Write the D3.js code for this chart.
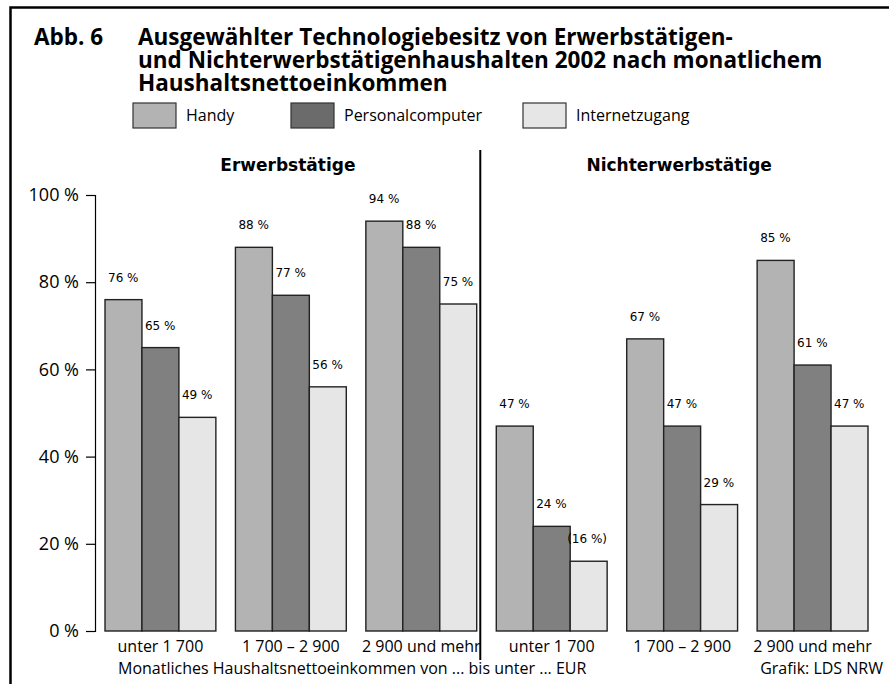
<!DOCTYPE html>
<html>
<head>
<meta charset="utf-8">
<script src="https://cdn.jsdelivr.net/npm/d3@7"></script>
<style>
  body { margin: 0; background: #fff; }
  .cond { font-family: "Open Sans", "Noto Sans", sans-serif; }
  .dv { font-family: "DejaVu Sans", sans-serif; }
</style>
</head>
<body>
<div id="chart"></div>
<script>
const sections = ["Erwerbstätige", "Nichterwerbstätige"]
const incomeClasses = ["unter 1 700", "1 700 – 2 900", "2 900 und mehr",
                       "unter 1 700", "1 700 – 2 900", "2 900 und mehr"]
const seriesNames = ["Handy", "Personalcomputer", "Internetzugang"]
const handy = [76, 88, 94, 47, 67, 85]
const pc = [65, 77, 88, 24, 47, 61]
const internet = [49, 56, 75, 16, 29, 47]
// values shown in brackets (low case numbers), per series: group indexes
const bracketed = [[], [], [3]]
const yTicks = [0, 20, 40, 60, 80, 100]

const BAR_COLORS = ["#b3b3b3", "#808080", "#e6e6e6"]
const LEGEND_COLORS = ["#b3b3b3", "#6b6b6b", "#e6e6e6"]

var W = 889, H = 684

var svg = d3.select("#chart").append("svg")
    .attr("width", W)
    .attr("height", H)

// frame (right and bottom edges are cut off)
svg.append("path")
    .attr("d", "M10.5,700 V7.5 H900")
    .attr("fill", "none")
    .attr("stroke", "#000")
    .attr("stroke-width", 2.5)

// title
var title = svg.append("g").attr("class", "cond").style("font-weight", "bold").style("font-size", "22.5px")
title.append("text").attr("x", 34).attr("y", 45).text("Abb. 6")
var titleLines = ["Ausgewählter Technologiebesitz von Erwerbstätigen-",
                  "und Nichterwerbstätigenhaushalten 2002 nach monatlichem",
                  "Haushaltsnettoeinkommen"]
title.selectAll(".tl")
    .data(titleLines)
    .enter().append("text")
    .attr("class", "tl")
    .attr("x", 138)
    .attr("y", (d, i) => 45 + i * 23)
    .text(d => d)

// legend
var legendX = [133, 291, 523]
var legend = svg.selectAll(".legend")
    .data(seriesNames)
    .enter().append("g")
    .attr("class", "legend")
    .attr("transform", (d, i) => "translate(" + legendX[i] + ",103)")
legend.append("rect")
    .attr("width", 43)
    .attr("height", 25)
    .attr("fill", (d, i) => LEGEND_COLORS[i])
    .attr("stroke", "#333")
    .attr("stroke-width", 1.2)
legend.append("text")
    .attr("class", "cond")
    .attr("x", 53)
    .attr("y", 18)
    .style("font-size", "16px")
    .text(d => d)

// scales
var x = d3.scaleBand()
    .domain(d3.range(incomeClasses.length))
    .range([105, 868])
    .paddingInner(0.15)

var xs = d3.scaleBand()
    .domain(d3.range(seriesNames.length))
    .range([0, x.bandwidth()])

var y = d3.scaleLinear()
    .domain([0, 100])
    .range([631, 195])

// y axis
var yAxis = svg.append("g")
    .attr("transform", "translate(95,0)")
    .call(d3.axisLeft(y).tickValues(yTicks).tickSize(9).tickPadding(7).tickFormat(d => d + " %"))
yAxis.select(".domain").attr("stroke", "#000").attr("stroke-width", 1.2)
yAxis.selectAll(".tick line").attr("stroke", "#000").attr("stroke-width", 1.2)
yAxis.selectAll(".tick text")
    .attr("class", "cond")
    .style("font-size", "18px")
    .attr("fill", "#000")

// bars
var values = [handy, pc, internet]
var barData = []
values.forEach((arr, s) => {
    arr.forEach((v, g) => {
        barData.push({ group: g, series: s, value: v, bracket: bracketed[s].indexOf(g) > -1 })
    })
})

svg.selectAll(".bar")
    .data(barData)
    .enter().append("rect")
    .attr("class", "bar")
    .attr("x", d => x(d.group) + xs(d.series))
    .attr("y", d => y(d.value))
    .attr("width", xs.bandwidth())
    .attr("height", d => y(0) - y(d.value))
    .attr("fill", d => BAR_COLORS[d.series])
    .attr("stroke", "#222")
    .attr("stroke-width", 1.4)

svg.selectAll(".val")
    .data(barData)
    .enter().append("text")
    .attr("class", "val dv")
    .attr("x", d => x(d.group) + xs(d.series) + (d.bracket ? -3 : 3))
    .attr("y", d => y(d.value) - 18)
    .style("font-size", "12px")
    .text(d => d.bracket ? "(" + d.value + " %)" : d.value + " %")

// category labels
svg.selectAll(".cat")
    .data(incomeClasses)
    .enter().append("text")
    .attr("class", "cat cond")
    .attr("x", (d, i) => x(i) + x.bandwidth() / 2)
    .attr("y", 652)
    .attr("text-anchor", "middle")
    .style("font-size", "16px")
    .text(d => d)

// section headings
svg.selectAll(".section")
    .data(sections)
    .enter().append("text")
    .attr("class", "section dv")
    .attr("x", (d, i) => (x(i * 3) + x(i * 3 + 2) + x.bandwidth()) / 2 - 3)
    .attr("y", 171)
    .attr("text-anchor", "middle")
    .style("font-size", "17px")
    .style("font-weight", "bold")
    .text(d => d)

// divider between the two sections
var divX = x(3) - 16
svg.append("line")
    .attr("x1", divX).attr("x2", divX)
    .attr("y1", 150).attr("y2", 660)
    .attr("stroke", "#000")
    .attr("stroke-width", 2)

svg.append("text")
    .attr("class", "cond")
    .attr("x", 118)
    .attr("y", 674)
    .style("font-size", "16px")
    .text("Monatliches Haushaltsnettoeinkommen von ... bis unter ... EUR")

svg.append("text")
    .attr("class", "cond")
    .attr("x", 883)
    .attr("y", 674)
    .attr("text-anchor", "end")
    .style("font-size", "16px")
    .text("Grafik: LDS NRW")
</script>
</body>
</html>
